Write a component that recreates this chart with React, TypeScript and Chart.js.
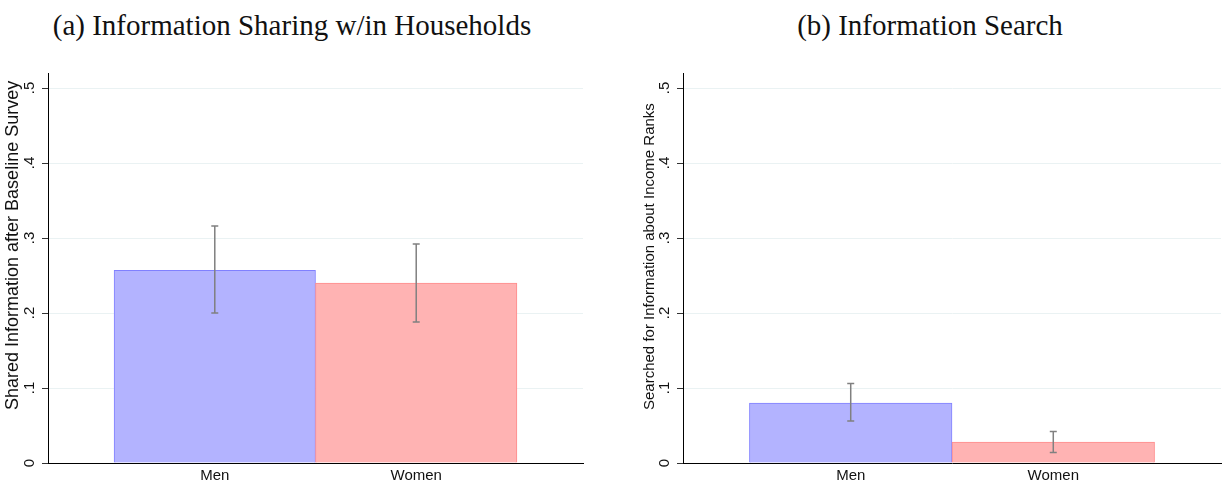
import React, { useEffect, useRef } from "react";
import { Chart, registerables } from "chart.js";

Chart.register(...registerables);

// Groups shown on the horizontal axis
const categories = ["Men", "Women"];

// Panel (a): share who passed on information within the household
const sharingMean = [0.257, 0.24];
const sharingLow = [0.2, 0.188];
const sharingHigh = [0.316, 0.292];

// Panel (b): share who searched for income-rank information
const searchMean = [0.08, 0.028];
const searchLow = [0.056, 0.014];
const searchHigh = [0.106, 0.042];

// Vertical axis ticks
const yTickValues = [0, 0.1, 0.2, 0.3, 0.4, 0.5];
const yTickLabels = ["0", ".1", ".2", ".3", ".4", ".5"];

const SANS = "'Liberation Sans', Arial, Helvetica, sans-serif";
const SERIF = "'Liberation Serif', 'Times New Roman', serif";

const fills = ["rgba(179,179,255,1)", "rgba(255,179,179,1)"];
const lines = ["rgba(128,128,255,1)", "rgba(255,140,140,1)"];

type PanelProps = {
  title: string;
  yTitle: string;
  mean: number[];
  low: number[];
  high: number[];
  left: number;
  width: number;
  axisWidth: number;
  rightPad: number;
  titleCenter: number;
  yTitleFont: number;
  yTitleOffset: number;
  yTitleBottom: number;
};

function Panel(p: PanelProps) {
  const ref = useRef<HTMLCanvasElement | null>(null);

  useEffect(() => {
    if (!ref.current) return;

    const overlay = {
      id: "panelOverlay",
      afterDatasetsDraw(chart: any) {
        const ctx = chart.ctx;
        const ys = chart.scales.y;
        const meta = chart.getDatasetMeta(0);
        ctx.save();
        ctx.strokeStyle = "rgba(128,128,128,1)";
        ctx.lineWidth = 1.5;
        meta.data.forEach((bar: any, i: number) => {
          const x = bar.x;
          const yHi = ys.getPixelForValue(p.high[i]);
          const yLo = ys.getPixelForValue(p.low[i]);
          ctx.beginPath();
          ctx.moveTo(x, yHi);
          ctx.lineTo(x, yLo);
          ctx.moveTo(x - 3.5, yHi);
          ctx.lineTo(x + 3.5, yHi);
          ctx.moveTo(x - 3.5, yLo);
          ctx.lineTo(x + 3.5, yLo);
          ctx.stroke();
        });
        ctx.restore();
      },
      afterDraw(chart: any) {
        const ctx = chart.ctx;
        const ys = chart.scales.y;
        ctx.save();
        ctx.fillStyle = "#111";
        ctx.font = `15px ${SANS}`;
        ctx.textAlign = "center";
        ctx.textBaseline = "middle";
        ys.ticks.forEach((t: any, i: number) => {
          const y = ys.getPixelForValue(t.value);
          ctx.save();
          ctx.translate(ys.right - 18, y);
          ctx.rotate(-Math.PI / 2);
          ctx.fillText(yTickLabels[i], 0, 0);
          ctx.restore();
        });
        ctx.font = `${p.yTitleFont}px ${SANS}`;
        ctx.textAlign = "left";
        ctx.translate(ys.right - p.yTitleOffset, p.yTitleBottom);
        ctx.rotate(-Math.PI / 2);
        ctx.fillText(p.yTitle, 0, 0);
        ctx.restore();
      },
    };

    const chart = new Chart(ref.current, {
      type: "bar",
      data: {
        datasets: [
          {
            data: p.mean.map((v, i) => ({ x: i + 1, y: v })),
            backgroundColor: fills,
            borderColor: lines,
            borderWidth: 1,
            barPercentage: 1,
            categoryPercentage: 1,
          },
        ],
      },
      options: {
        animation: false,
        responsive: false,
        layout: { padding: { top: 73, right: p.rightPad, bottom: 0, left: 0 } },
        plugins: {
          legend: { display: false },
          tooltip: { enabled: false },
          title: { display: false },
        },
        scales: {
          x: {
            type: "linear",
            min: 0.172,
            max: 2.828,
            offset: false,
            afterBuildTicks: (scale: any) => {
              scale.ticks = categories.map((_, i) => ({ value: i + 1 }));
            },
            afterFit: (scale: any) => {
              scale.height = 24;
            },
            grid: { display: true, drawOnChartArea: false, drawTicks: false },
            border: { display: true, color: "#000", width: 1 },
            ticks: {
              autoSkip: false,
              maxRotation: 0,
              padding: 4,
              color: "#111",
              font: { family: SANS, size: 15 },
              callback: (_v: any, i: number) => categories[i],
            },
          },
          y: {
            type: "linear",
            min: 0,
            max: 0.52,
            afterBuildTicks: (scale: any) => {
              scale.ticks = yTickValues.map((v) => ({ value: v }));
            },
            afterFit: (scale: any) => {
              scale.width = p.axisWidth;
            },
            grid: {
              color: "rgba(234,242,243,1)",
              tickColor: "#333",
              tickLength: 6,
              lineWidth: 1,
            },
            border: { display: true, color: "#000", width: 1 },
            ticks: { display: false },
          },
        },
      },
      plugins: [overlay],
    } as any);

    return () => chart.destroy();
  }, []);

  return (
    <>
      <div
        style={{
          position: "absolute",
          left: p.titleCenter - 300,
          width: 600,
          top: 11,
          textAlign: "center",
          fontFamily: SERIF,
          fontSize: 29,
          lineHeight: "29px",
          color: "#111",
          whiteSpace: "nowrap",
        }}
      >
        {p.title}
      </div>
      <canvas
        ref={ref}
        width={p.width}
        height={487}
        style={{ position: "absolute", left: p.left, top: 0, width: p.width, height: 487 }}
      />
    </>
  );
}

export default function App() {
  return (
    <div
      style={{
        position: "fixed",
        left: 0,
        top: 0,
        width: 1225,
        height: 487,
        background: "#fff",
        overflow: "hidden",
      }}
    >
      <Panel
        title="(a) Information Sharing w/in Households"
        yTitle="Shared Information after Baseline Survey"
        mean={sharingMean}
        low={sharingLow}
        high={sharingHigh}
        left={0}
        width={612}
        axisWidth={48}
        rightPad={29}
        titleCenter={292}
        yTitleFont={18}
        yTitleOffset={35}
        yTitleBottom={410}
      />
      <Panel
        title="(b) Information Search"
        yTitle="Searched for Information about Income Ranks"
        mean={searchMean}
        low={searchLow}
        high={searchHigh}
        left={612}
        width={613}
        axisWidth={71}
        rightPad={4}
        titleCenter={930}
        yTitleFont={15}
        yTitleOffset={33}
        yTitleBottom={410}
      />
    </div>
  );
}
